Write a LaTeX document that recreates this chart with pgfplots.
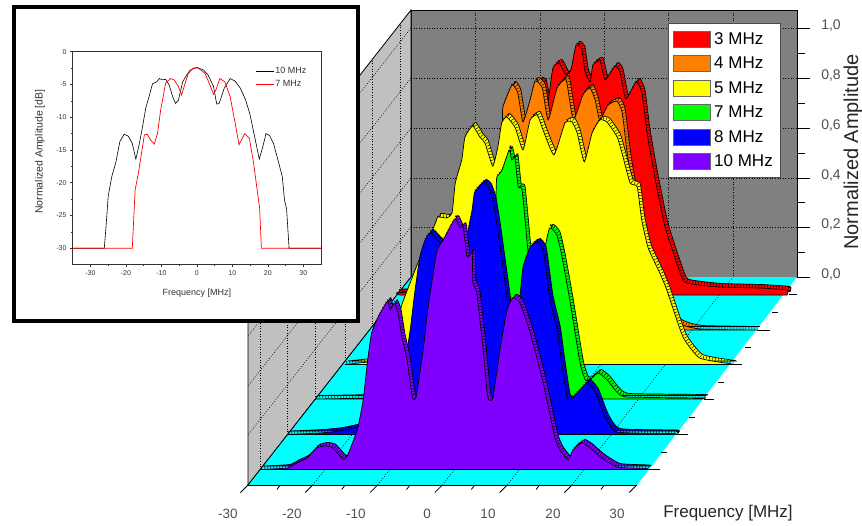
\documentclass[border=0pt]{standalone}
\usepackage{pgfplots}
\usepackage{pgfplotstable}
\usepackage{fontspec}
\setmainfont{Liberation Sans}
\pgfplotsset{compat=1.18}
\definecolor{cRed}{HTML}{FF0000}
\definecolor{cOrange}{HTML}{FF8000}
\definecolor{cYellow}{HTML}{FFFF00}
\definecolor{cGreen}{HTML}{00FF00}
\definecolor{cBlue}{HTML}{0000FF}
\definecolor{cPurple}{HTML}{8000FF}
\definecolor{cCyan}{HTML}{00FFFF}
\definecolor{tickgray}{HTML}{505050}

\pgfplotstableread{
f a
-30 0
-30 .01
-14.5 .02
-12.2 .06
-10.6 .383
-9.4 .746
-8.6 .859
-7.8 .855
-7.1 .774
-6.3 .915
-5.3 .935
-4.3 .887
-3.5 .907
-2.7 1.008
-1.8 .988
-1.3 .899
-.5 .859
-.1 .927
1.0 .944
1.8 .867
3.3 .923
4.1 .899
5.0 .790
6.6 .859
7.5 .815
8.3 .653
9.5 .476
11.1 .274
13.7 .069
14.5 .048
16.5 .040
19.6 .032
25.8 .028
30 .020
30 0
}\tThree
\pgfplotstableread{
f a
-30 0
-22.6 .004
-13.3 .020
-11.4 .081
-10.9 .524
-9.8 .835
-9.7 .899
-8.3 .988
-7.4 .956
-6.6 .839
-5.5 .927
-4.7 1.004
-3.6 .976
-2.7 .847
-1.3 .976
.1 1.008
1.2 .847
2.7 .948
3.8 .976
4.6 .927
5.3 .847
6.6 .907
8.0 .923
8.8 .875
9.5 .726
10.3 .597
13.1 .282
16.2 .060
18.2 .020
20.9 .004
29.7 0
}\tFour
\pgfplotstableread{
f a
-30 0
-26.4 .010
-23.8 .018
-22.7 .058
-21.9 .159
-21.2 .240
-19.9 .329
-18.7 .409
-16.8 .522
-15.9 .575
-15.6 .595
-14.2 .591
-13.4 .611
-12.9 .732
-11.9 .825
-11.4 .917
-10.2 .962
-9.1 .917
-8.3 .893
-7.1 .800
-6.3 .877
-5.7 .974
-4.9 .998
-3.6 .954
-2.4 .865
-1.3 .986
-.2 1.006
.7 .946
2.4 .845
4.1 .974
5.2 .978
6.0 .933
7.1 .817
8.3 .933
9.5 .986
10.6 .978
12.2 .917
13.1 .837
14.2 .732
15.3 .716
16.0 .583
17.0 .470
18.8 .369
19.9 .300
22.4 .111
25.0 .026
30 .002
30 0
}\tFive
\pgfplotstableread{
f a
-30 0
-22.2 .004
-16.8 .016
-12.2 .117
-9.8 .319
-8.3 .520
-6.4 .641
-4.7 .601
-3.2 .399
-2.2 .641
-1.9 .855
-1.8 .895
-1.0 .923
.1 1.004
.5 .964
1.0 .972
1.5 .855
2.1 .843
3.0 .601
3.8 .399
4.7 .399
5.7 .613
6.4 .690
7.5 .661
8.3 .573
9.5 .399
11.1 .145
11.9 .077
12.6 .077
13.9 .105
15.3 .077
16.8 .028
18.4 .008
30 .004
30 0
}\tSeven
\pgfplotstableread{
f a
-30 0
-24.9 .006
-21.8 .014
-19.1 .030
-16.4 .067
-14.8 .147
-13.4 .139
-11.9 .260
-10.9 .421
-10.2 .571
-9.4 .716
-8.6 .784
-7.8 .813
-6.7 .784
-6.0 .752
-4.4 .462
-3.2 .542
-2.1 .796
-1.3 .905
-.9 .978
.4 1.014
1.2 .998
1.9 .946
2.6 .837
3.3 .704
4.1 .554
4.7 .421
5.5 .462
6.1 .554
6.6 .675
7.7 .756
8.8 .776
9.7 .744
10.3 .635
10.8 .542
11.9 .421
12.6 .288
13.4 .151
13.9 .139
15.0 .167
16.2 .200
16.5 .212
17.8 .171
19.3 .071
21.2 .010
30 .004
30 0
}\tEight
\pgfplotstableread{
f a
-30 0
-25.8 .006
-24.3 .026
-22.7 .046
-21.2 .087
-19.9 .095
-18.7 .087
-17.1 .042
-16.4 .058
-15.3 .131
-14.8 .171
-14.0 .280
-13.3 .442
-12.7 .550
-11.9 .603
-11.1 .643
-10.2 .679
-9.8 .643
-9.2 .671
-8.6 .631
-8.0 .534
-7.2 .442
-6.4 .292
-5.8 .292
-4.7 .482
-4.0 .643
-2.6 .877
-1.6 .925
.2 1.010
1.0 .974
1.5 .978
2.1 .857
2.9 .873
3.0 .752
3.6 .712
4.6 .482
5.3 .292
6.1 .288
7.2 .482
8.3 .643
9.2 .692
10.3 .671
11.9 .550
13.9 .349
15.7 .131
16.5 .079
17.8 .038
18.5 .079
19.9 .107
21.2 .087
22.8 .050
25.4 .010
30 .004
30 0
}\tTen

\pgfplotstableread{
f d
-35 -30
-26.1 -30
-25.6 -26.7
-25 -22.1
-24 -19.1
-22.8 -16.8
-21.7 -13.7
-20.5 -12.6
-19.3 -12.9
-18.2 -14
-17.2 -16.4
-16.2 -14
-15.3 -11.4
-14.4 -8.6
-13.5 -6.9
-12.5 -4.9
-11.3 -4.6
-10.6 -4.1
-9.6 -4.3
-8.8 -4.2
-7.8 -5.1
-6.8 -6.9
-6 -7.9
-5.2 -7.4
-4 -4.6
-2.9 -3.6
-1.9 -2.8
0 -2.4
1.9 -2.8
3.2 -3.6
4.7 -5.3
5.6 -8
6.3 -7.9
7.7 -5.6
9.4 -4.1
10.8 -4.5
12.3 -5.6
13.7 -7.3
14.9 -9.4
16.3 -13
17.6 -16.4
18.6 -14.5
19.5 -12.5
20.5 -12.8
21.6 -14
23 -16.8
24.1 -19.1
24.7 -22.6
25.3 -24
26 -30
35 -30
}\insTen
\pgfplotstableread{
f d
-35 -30
-18.2 -30
-17.4 -21.1
-16.5 -18.6
-15.6 -15.5
-14.8 -12.7
-14 -12.6
-13 -13.5
-12 -14.1
-11.1 -12.5
-10.2 -8.9
-9.4 -6.6
-8.8 -4.8
-7.4 -4.1
-6.4 -4.3
-5.2 -5.3
-4.3 -6.6
-3.3 -4.8
-2.4 -3.3
-1 -2.5
0.4 -2.5
2.3 -3.3
3.7 -5.1
4.7 -6.5
5.4 -5.8
6.5 -4.1
7.9 -4.6
9.4 -6.9
10.8 -10.9
11.9 -14.2
13.5 -12.5
14.8 -13.2
16 -17
17 -21.1
17.7 -23.9
18.2 -30
35 -30
}\insSeven

% one slice: table, x of 0 MHz, y of the baseline, colour
\newcommand{\slice}[4]{%
 \addplot[forget plot,draw=black,line width=.7pt,fill=#4,smooth,tension=.3]
   table[x expr=\thisrow{f}*6.45+#2+3,y expr=#3-\thisrow{a}*248-3.5]{#1} -- cycle;
 \addplot[forget plot,draw=black,line width=3pt,dash pattern=on .5pt off 2.5pt,smooth,tension=.3]
   table[x expr=\thisrow{f}*6.45+#2+1.5,y expr=#3-\thisrow{a}*248-1.75]{#1};
 \addplot[draw=black,line width=.7pt,fill=#4,smooth,tension=.3]
   table[x expr=\thisrow{f}*6.45+#2,y expr=#3-\thisrow{a}*248]{#1} -- cycle;
}
\tikzset{gridl/.style={black,line width=.5pt,dash pattern=on 1pt off 1.6pt},
         tk/.style={black,line width=.8pt}}
\newcommand{\G}[4]{\draw[gridl] (axis cs:#1,#2)--(axis cs:#3,#4);}
\newcommand{\T}[4]{\draw[tk] (axis cs:#1,#2)--(axis cs:#3,#4);}
\newcommand{\tl}[2]{\node[text=tickgray,font=\fontsize{13.5}{15}\selectfont] at (axis cs:#1,514) {#2};}
\newcommand{\al}[2]{\node[text=tickgray,font=\fontsize{14}{15}\selectfont] at (axis cs:831,#1) {#2};}

\begin{document}
\begin{tikzpicture}
\useasboundingbox (0,0) rectangle (862pt,525pt);
\begin{axis}[at={(0,0)},anchor=south west,width=862pt,height=525pt,scale only axis,
  xmin=0,xmax=862,ymin=0,ymax=525,y dir=reverse,hide axis,clip=false,
  legend style={at={(axis cs:668,23)},anchor=north west,draw=black!70,line width=.8pt,fill=white,
     inner xsep=5pt,inner ysep=7.5pt,row sep=7.6pt,legend cell align=left,
     nodes={font=\fontsize{17}{19}\selectfont,inner ysep=1pt,inner xsep=3pt,anchor=west}},
  legend image code/.code={\draw[#1,draw=black!60,line width=.8pt] (0pt,-8pt) rectangle (37pt,8pt);},
]
% walls and floor
\addplot[forget plot,draw=black,line width=.8pt,fill={rgb,255:red,128;green,128;blue,128}] coordinates {(411,10)(797,10)(797,277)(411,277)} -- cycle;
\addplot[forget plot,fill={rgb,255:red,192;green,192;blue,192},draw=black,line width=.8pt] coordinates {(248,485)(411,277)(411,10)(248,218)} -- cycle;
\addplot[forget plot,fill=cCyan,draw=none] coordinates {(248,485)(637,485)(797,277)(411,277)} -- cycle;
\T{248}{485}{637}{485}\T{248}{485}{411}{277}
% grid on the back wall
\G{411}{28}{797}{28}\G{411}{78}{797}{78}\G{411}{128}{797}{128}\G{411}{178}{797}{178}\G{411}{227}{797}{227}
\G{475.4}{10}{475.4}{277}\G{539.8}{10}{539.8}{277}\G{604.2}{10}{604.2}{277}\G{668.6}{10}{668.6}{277}\G{733}{10}{733}{277}
% grid on the left wall
\G{411}{28}{248}{236}\G{411}{78}{248}{286}\G{411}{128}{248}{336}\G{411}{178}{248}{386}\G{411}{227}{248}{435}
\G{260}{469.7}{260}{203}\G{287}{435}{287}{168}\G{315}{399.5}{315}{132}\G{345}{361}{345}{94}\G{372}{327}{372}{60}\G{400}{291}{400}{24}
% grid on the floor
\G{312.8}{485}{475.4}{277}\G{377.6}{485}{539.8}{277}\G{442.4}{485}{604.2}{277}\G{507.2}{485}{668.6}{277}\G{572}{485}{733}{277}
% ticks of the frequency axis
\T{248}{485}{240.5}{492.5}\T{312.8}{485}{305.3}{492.5}\T{377.6}{485}{370.1}{492.5}\T{442.4}{485}{434.9}{492.5}\T{507.2}{485}{499.7}{492.5}\T{572}{485}{564.5}{492.5}\T{636.8}{485}{629.3}{492.5}
\T{280.4}{485}{276.9}{489.5}\T{345.2}{485}{341.7}{489.5}\T{410}{485}{406.5}{489.5}\T{474.8}{485}{471.3}{489.5}\T{539.6}{485}{536.1}{489.5}\T{604.4}{485}{600.9}{489.5}
% ticks of the depth axis
\T{647}{469}{660}{469}\T{676}{434}{688}{434}\T{704}{399}{714}{399}\T{733}{364}{742}{364}\T{757}{330}{770}{330}\T{789}{294}{797}{294}
\T{661}{452}{667}{452}\T{689}{417}{695}{417}\T{718}{382}{724}{382}\T{745}{347}{751}{347}\T{772}{312}{778}{312}
% slices, back to front
\slice{\tThree}{593.5}{295}{cRed}\addlegendentry{3 MHz}
\slice{\tFour}{565.5}{330}{cOrange}\addlegendentry{4 MHz}
\slice{\tFive}{538.5}{364.5}{cYellow}\addlegendentry{5 MHz}
\slice{\tSeven}{508.5}{399}{cGreen}\addlegendentry{7 MHz}
\slice{\tEight}{480.5}{434.5}{cBlue}\addlegendentry{8 MHz}
\slice{\tTen}{453.5}{469.5}{cPurple}\addlegendentry{10 MHz}
% amplitude axis
\T{797}{10}{797}{277}
\T{797}{277}{810}{277}\T{797}{227}{810}{227}\T{797}{178}{810}{178}\T{797}{128}{810}{128}\T{797}{78}{810}{78}\T{797}{28}{810}{28}
\T{797}{252}{805}{252}\T{797}{202}{805}{202}\T{797}{153}{805}{153}\T{797}{103}{805}{103}\T{797}{53}{805}{53}
\al{275}{0,0}\al{225}{0,2}\al{176}{0,4}\al{126}{0,6}\al{76}{0,8}\al{26}{1,0}
\node[rotate=90,font=\fontsize{20}{22}\selectfont,text=black!85] at (axis cs:853,152) {Normalized Amplitude};
\tl{228}{-30}\tl{292}{-20}\tl{356}{-10}\tl{427}{0}\tl{488}{10}\tl{553}{20}\tl{617}{30}
\node[font=\fontsize{17}{19}\selectfont,text=black!85] at (axis cs:728,513) {Frequency [MHz]};
% frame of the inset
\draw[black,line width=4pt,fill=white] (axis cs:14,7) rectangle (axis cs:358,321);
\end{axis}
\begin{axis}[at={(72.7pt,260.7pt)},anchor=south west,width=248.3pt,height=212.6pt,scale only axis,
  xmin=-35,xmax=35,ymin=-32.45,ymax=0,
  xtick={-30,-20,...,30},ytick={-30,-25,...,0},minor x tick num=1,minor y tick num=1,
  tick pos=left,tick align=outside,major tick length=3pt,minor tick length=1.5pt,
  axis line style={black!80,line width=.5pt},tick style={black!80,line width=.5pt},
  /pgf/number format/assume math mode=true,
  ticklabel style={font=\fontsize{7}{8}\selectfont,text=black!80,inner sep=3pt},
  xlabel={Frequency [MHz]},ylabel={Normalized Amplitude [dB]},
  xlabel style={font=\fontsize{9}{10}\selectfont,text=black!80,at={(axis description cs:.5,-.137)},anchor=center},
  ylabel style={font=\fontsize{10.5}{11}\selectfont,text=black!80,at={(axis description cs:-.132,.53)},anchor=center},
  legend style={at={(axis cs:16.5,-2.2)},anchor=north west,draw=none,fill=none,inner sep=0pt,row sep=3.5pt,
     legend cell align=left,nodes={font=\fontsize{9}{10}\selectfont,text=black!80,inner sep=1pt}},
  legend image code/.code={\draw[#1] (0pt,0pt)--(18pt,0pt);},
]
\addplot[black,line width=.6pt] table[x=f,y=d]{\insTen};
\addlegendentry{10 MHz}
\addplot[red,line width=.7pt] table[x=f,y=d]{\insSeven};
\addlegendentry{7 MHz}
\end{axis}
\end{tikzpicture}
\end{document}
